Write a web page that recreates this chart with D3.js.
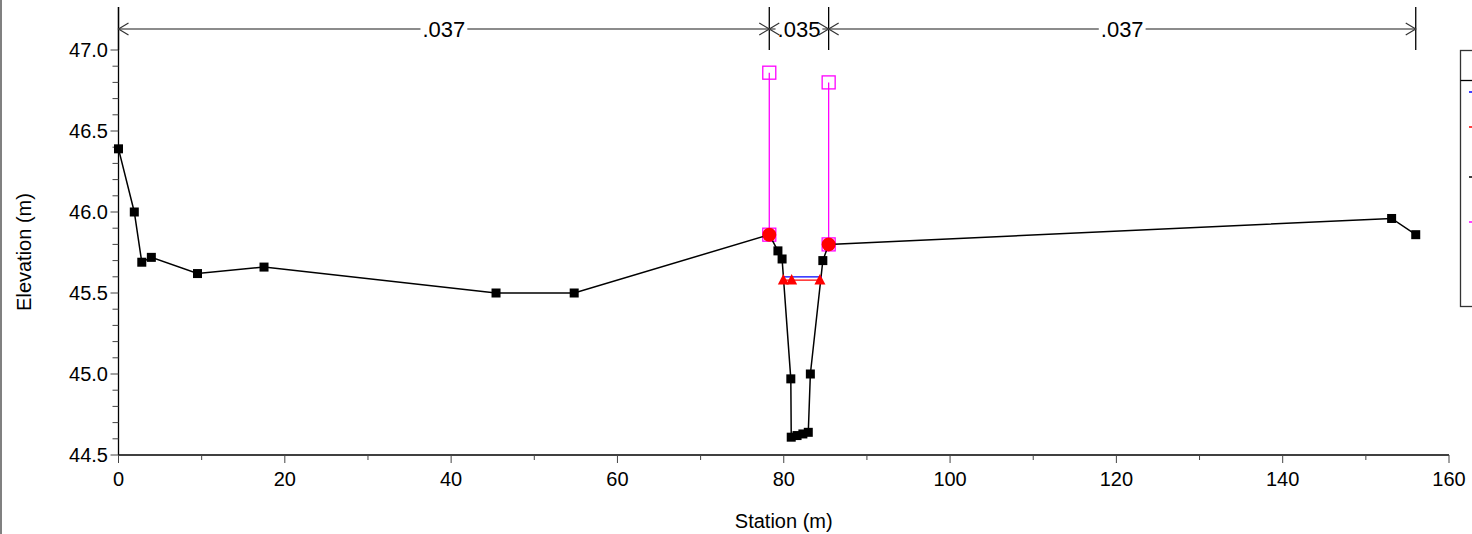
<!DOCTYPE html>
<html><head><meta charset="utf-8">
<script src="https://cdn.jsdelivr.net/npm/d3@7"></script>
<style>
html,body{margin:0;padding:0;background:#fff;}
svg{display:block;font-family:Arial,"Liberation Sans",sans-serif;}
</style></head>
<body>
<svg id="c" width="1472" height="534"></svg>
<script>
// ---- data ----
const groundStation = [0, 1.9, 2.8, 3.95, 9.5, 17.5, 45.4, 54.8, 78.26, 79.3, 79.8, 80.85, 80.9, 81.6, 82.3, 82.95, 83.2, 84.7, 85.4, 153.1, 156.0];
const groundElev    = [46.39, 46.00, 45.69, 45.72, 45.62, 45.66, 45.50, 45.50, 45.86, 45.76, 45.71, 44.97, 44.61, 44.62, 44.63, 44.64, 45.00, 45.70, 45.80, 45.96, 45.86];
const bankStation = [78.26, 85.4];
const bankElev    = [45.86, 45.80];
const leveeStation = [78.26, 85.4];
const leveeTop     = [46.86, 46.80];
const wsStation = [79.95, 84.6];
const wsElev    = [45.60, 45.60];
const critStation = [79.95, 80.95, 84.35];
const critElev    = [45.58, 45.58, 45.58];
const nBreaks = [0, 78.26, 85.4, 156.0];
const nValues = [".037", ".035", ".037"];
const xTicks = [0, 20, 40, 60, 80, 100, 120, 140, 160];
const yTicks = [44.5, 45.0, 45.5, 46.0, 46.5, 47.0];

const svg = d3.select("#c");
const x = d3.scaleLinear().domain([0, 160]).range([118.5, 1449]);
const y = d3.scaleLinear().domain([44.5, 47.0]).range([455, 50]);
const FS = 20;

// figure border at left
svg.append("line").attr("x1",1).attr("x2",1).attr("y1",0).attr("y2",534).attr("stroke","#808080").attr("stroke-width",2);

// axes
const xMinor = d3.range(0, 161, 10);
const yMinor = d3.range(0, 26).map(i => +(44.5 + i*0.1).toFixed(1));
const ax = svg.append("g");
ax.append("line").attr("x1", x(0)).attr("x2", x(160)).attr("y1", y(44.5)).attr("y2", y(44.5)).attr("stroke","#000").attr("stroke-width",1.3);
ax.append("line").attr("x1", x(0)).attr("x2", x(0)).attr("y1", y(44.5)).attr("y2", 7).attr("stroke","#000").attr("stroke-width",1.3);
ax.selectAll(".xt").data(xMinor).join("line")
  .attr("x1", d => x(d)).attr("x2", d => x(d))
  .attr("y1", y(44.5)).attr("y2", d => y(44.5) + (d % 20 === 0 ? 8 : 5))
  .attr("stroke","#444").attr("stroke-width",1);
ax.selectAll(".yt").data(yMinor).join("line")
  .attr("y1", d => y(d)).attr("y2", d => y(d))
  .attr("x1", x(0)).attr("x2", d => x(0) - (Math.abs((d*10) % 5) < 0.01 ? 8 : 6))
  .attr("stroke","#444").attr("stroke-width",1);
ax.selectAll(".xl").data(xTicks).join("text")
  .attr("x", d => x(d)).attr("y", 486).attr("text-anchor","middle")
  .attr("font-size", FS).attr("fill","#000").text(d => d);
ax.selectAll(".yl").data(yTicks).join("text")
  .attr("x", 108).attr("y", d => y(d) + 7).attr("text-anchor","end")
  .attr("font-size", FS).attr("fill","#000").text(d => d.toFixed(1));
svg.append("text").attr("x", 783.75).attr("y", 528).attr("text-anchor","middle")
  .attr("font-size", FS).text("Station (m)");
svg.append("text").attr("transform","translate(31,252) rotate(-90)").attr("text-anchor","middle")
  .attr("font-size", FS).text("Elevation (m)");

// Manning's n annotations
const ann = svg.append("g");
const ay = 29;
nBreaks.forEach(b => {
  ann.append("line").attr("x1", x(b)).attr("x2", x(b)).attr("y1", 7).attr("y2", 50).attr("stroke","#000").attr("stroke-width",1.3);
});
nValues.forEach((v, i) => {
  const x0 = x(nBreaks[i]), x1 = x(nBreaks[i+1]);
  ann.append("line").attr("x1", x0).attr("x2", x1).attr("y1", ay).attr("y2", ay).attr("stroke","#666").attr("stroke-width",1.3);
  ann.append("path").attr("d", `M${x0+10},${ay-6} L${x0},${ay} L${x0+10},${ay+6}`).attr("fill","none").attr("stroke","#333").attr("stroke-width",1.2);
  ann.append("path").attr("d", `M${x1-10},${ay-6} L${x1},${ay} L${x1-10},${ay+6}`).attr("fill","none").attr("stroke","#333").attr("stroke-width",1.2);
  const t = ann.append("text").attr("x", (x0+x1)/2).attr("y", ay + 8).attr("text-anchor","middle").attr("font-size", 22).text(v);
  const bb = t.node().getBBox();
  ann.insert("rect", function(){ return t.node(); }).attr("x", bb.x - 2).attr("y", ay - 3).attr("width", bb.width + 4).attr("height", 6).attr("fill","#fff");
});

// levee lines (magenta)
const lev = svg.append("g");
leveeStation.forEach((s, i) => {
  lev.append("line").attr("x1", x(s)).attr("x2", x(s)).attr("y1", y(leveeTop[i])).attr("y2", y(bankElev[i])).attr("stroke","#ff00ff").attr("stroke-width",1.3);
});
const sq = 13;
lev.selectAll(".lt").data(leveeStation.map((s,i)=>[s,leveeTop[i]]).concat(leveeStation.map((s,i)=>[s,bankElev[i]])))
  .join("rect").attr("x", d => x(d[0]) - sq/2).attr("y", d => y(d[1]) - sq/2).attr("width", sq).attr("height", sq)
  .attr("fill","none").attr("stroke","#ff00ff").attr("stroke-width",1.3);

// ground
const gpts = groundStation.map((s,i)=>[s, groundElev[i]]);
svg.append("path").attr("d", d3.line().x(d=>x(d[0])).y(d=>y(d[1]))(gpts)).attr("fill","none").attr("stroke","#000").attr("stroke-width",1.5);
svg.selectAll(".gp").data(gpts).join("rect")
  .attr("x", d => x(d[0]) - 4.5).attr("y", d => y(d[1]) - 4.5).attr("width", 9).attr("height", 9).attr("fill","#000");

// WS
svg.append("path").attr("d", d3.line().x((d,i)=>x(wsStation[i])).y(d=>y(d))(wsElev)).attr("stroke","#0000ff").attr("stroke-width",1.3).attr("fill","none");
// crit
svg.append("path").attr("d", d3.line().x((d,i)=>x(critStation[i])).y(d=>y(d))(critElev)).attr("stroke","#ff0000").attr("stroke-width",1.3).attr("fill","none");
svg.selectAll(".cr").data(critStation.map((s,i)=>[s,critElev[i]])).join("path")
  .attr("transform", d => `translate(${x(d[0])},${y(d[1])})`)
  .attr("d", "M0,-6 L5.5,4.5 L-5.5,4.5 Z").attr("fill","#ff0000");

// bank stations
svg.selectAll(".bk").data(bankStation.map((s,i)=>[s,bankElev[i]])).join("circle")
  .attr("cx", d => x(d[0])).attr("cy", d => y(d[1])).attr("r", 7).attr("fill","#ff0000");

// legend (cut off at right edge)
const lg = svg.append("g");
lg.append("rect").attr("x", 1460.5).attr("y", 50.5).attr("width", 40).attr("height", 256).attr("fill","#fff").attr("stroke","#333").attr("stroke-width",1.3);
lg.append("line").attr("x1", 1460.5).attr("x2", 1472).attr("y1", 80.5).attr("y2", 80.5).attr("stroke","#000").attr("stroke-width",1.3);
const legColors = ["#0000ff", "#ff0000", "#000000", "#ff00ff"];
const legY = [92, 127, 177, 222];
legColors.forEach((c, i) => {
  lg.append("line").attr("x1", 1469).attr("x2", 1472).attr("y1", legY[i]).attr("y2", legY[i]).attr("stroke", c).attr("stroke-width", 1.5);
});
</script>
</body></html>
